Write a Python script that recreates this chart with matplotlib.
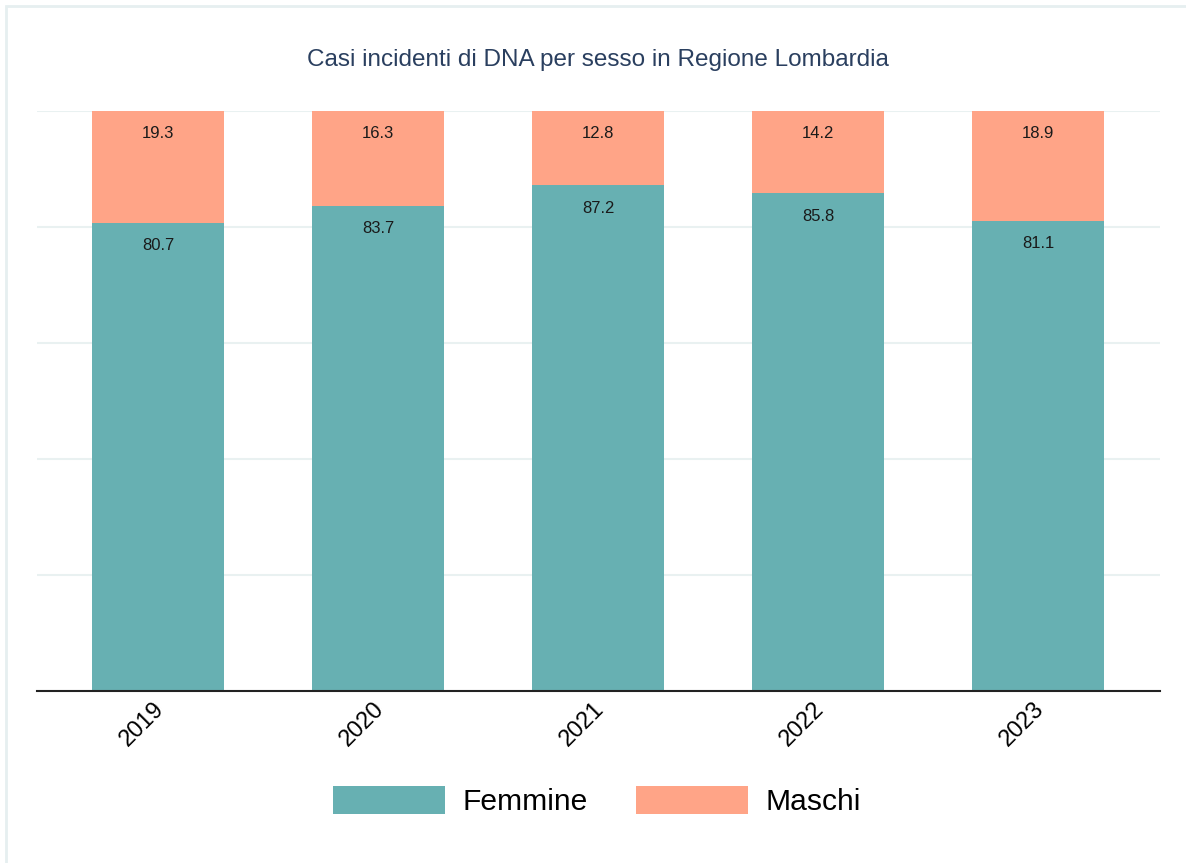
import matplotlib.pyplot as plt
import matplotlib.patches as mpatches
import matplotlib.transforms as mtrans
import numpy as np

plt.rcParams['font.family'] = ['Liberation Sans', 'DejaVu Sans']

# dati
anni = ['2019', '2020', '2021', '2022', '2023']
femmine = [80.7, 83.7, 87.2, 85.8, 81.1]
maschi = [19.3, 16.3, 12.8, 14.2, 18.9]

col_f = '#67b0b2'
col_m = '#ffa487'

W, H = 1186, 863
fig = plt.figure(figsize=(W / 100, H / 100), dpi=100)
ax = fig.add_axes([37 / W, 1 - 691 / H, (1160 - 37) / W, (691 - 111) / H])

x = np.arange(len(anni))
b1 = ax.bar(x, femmine, width=0.6, color=col_f, label='Femmine', zorder=2)
b2 = ax.bar(x, maschi, width=0.6, bottom=femmine, color=col_m, label='Maschi', zorder=2)

# etichette dentro le barre, vicino al bordo alto
for i in range(len(anni)):
    ax.annotate(f'{femmine[i]:.1f}', (x[i], femmine[i]), xytext=(0, -16.5),
                textcoords='offset points', ha='center', va='center',
                fontsize=12, color='#1a1a1a', zorder=3)
    ax.annotate(f'{maschi[i]:.1f}', (x[i], femmine[i] + maschi[i]), xytext=(0, -16.5),
                textcoords='offset points', ha='center', va='center',
                fontsize=12, color='#1a1a1a', zorder=3)

ax.set_xlim(-0.55, 4.555)
ax.set_ylim(0, 100)
ax.set_yticks([0, 20, 40, 60, 80, 100])
ax.set_yticklabels([])
ax.tick_params(axis='y', length=0)
ax.grid(axis='y', color='#e9f1f1', linewidth=1.5, zorder=0)
ax.set_xticks(x)
ax.set_xticklabels(anni, rotation=45, ha='right', va='top', rotation_mode='anchor', fontsize=17)
ax.tick_params(axis='x', length=0, pad=5)
sposta = mtrans.ScaledTranslation(-0.05, 0, fig.dpi_scale_trans)
for lab in ax.get_xticklabels():
    lab.set_transform(lab.get_transform() + sposta)
for s in ['top', 'right', 'left']:
    ax.spines[s].set_visible(False)
ax.spines['bottom'].set_color('#222222')
ax.spines['bottom'].set_linewidth(1.5)
ax.spines['bottom'].set_zorder(4)

fig.text(598 / W, 1 - 60 / H, 'Casi incidenti di DNA per sesso in Regione Lombardia',
         ha='center', va='center', fontsize=17.5, color='#2a3f5f')

fig.legend(handles=[b1, b2], loc='center', bbox_to_anchor=(597 / W, 1 - 801 / H), ncol=2,
           frameon=False, fontsize=21.6, handlelength=3.73, handleheight=1.05,
           handletextpad=0.6, columnspacing=1.6)

# cornice leggera
fig.patches.append(mpatches.Rectangle((6 / W, -0.05), 1.2, (H - 6) / H + 0.05,
                                      transform=fig.transFigure, fill=False,
                                      edgecolor='#e6eff0', linewidth=2))

plt.savefig('out.png', dpi=100)
